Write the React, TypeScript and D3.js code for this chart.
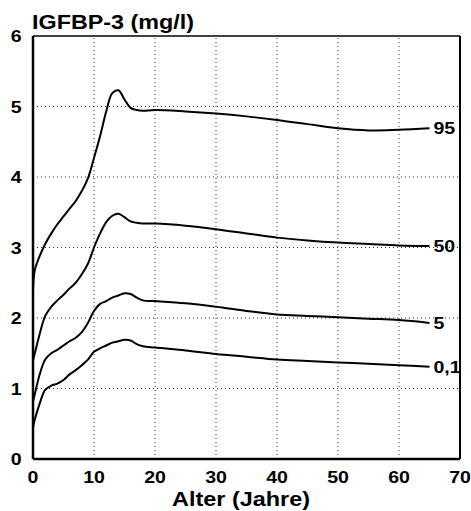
import React from "react";
import * as d3 from "d3";

const ages = [0, 0.3, 1, 2, 3, 4, 5, 6, 7, 8, 9, 10, 11, 12, 13, 14, 15, 16, 17, 18, 20, 25, 30, 35, 40, 45, 50, 55, 60, 65];
const p95 = [2.4, 2.68, 2.86, 3.05, 3.2, 3.33, 3.44, 3.55, 3.66, 3.8, 3.98, 4.27, 4.58, 4.93, 5.19, 5.23, 5.1, 4.98, 4.95, 4.94, 4.95, 4.93, 4.9, 4.86, 4.81, 4.75, 4.69, 4.66, 4.67, 4.69];
const p50 = [1.4, 1.5, 1.74, 2.03, 2.16, 2.25, 2.33, 2.42, 2.5, 2.62, 2.77, 3.0, 3.2, 3.36, 3.45, 3.48, 3.43, 3.37, 3.35, 3.34, 3.34, 3.31, 3.26, 3.2, 3.14, 3.1, 3.07, 3.05, 3.03, 3.02];
const p5 = [0.82, 0.92, 1.17, 1.41, 1.5, 1.55, 1.61, 1.67, 1.72, 1.8, 1.93, 2.1, 2.2, 2.24, 2.29, 2.32, 2.35, 2.34, 2.29, 2.25, 2.24, 2.21, 2.16, 2.1, 2.05, 2.03, 2.01, 1.99, 1.97, 1.93];
const p01 = [0.45, 0.56, 0.76, 0.98, 1.04, 1.07, 1.12, 1.2, 1.26, 1.33, 1.41, 1.52, 1.57, 1.61, 1.65, 1.67, 1.69, 1.68, 1.63, 1.6, 1.58, 1.54, 1.49, 1.45, 1.41, 1.39, 1.37, 1.35, 1.33, 1.31];
const seriesNames = ["95", "50", "5", "0,1"];
const seriesValues = [p95, p50, p5, p01];
const xTicks = [0, 10, 20, 30, 40, 50, 60, 70];
const yTicks = [0, 1, 2, 3, 4, 5, 6];
const title = "IGFBP-3 (mg/l)";
const xTitle = "Alter (Jahre)";

const FONT = "'Liberation Sans', Arial, Helvetica, sans-serif";

export default function App() {
  const x = d3.scaleLinear().domain([0, 70]).range([33, 460]);
  const y = d3.scaleLinear().domain([0, 6]).range([459, 36]);
  const line = d3
    .line<[number, number]>()
    .x((d) => x(d[0]))
    .y((d) => y(d[1]))
    .curve(d3.curveCatmullRom.alpha(0.5));

  const sx = 1.15;
  const T = (props: { x: number; y: number; size: number; anchor?: string; children: React.ReactNode; textLength?: number }) => (
    <text
      transform={`translate(${props.x},${props.y}) scale(${props.textLength ? 1 : sx},1)`}
      fontFamily={FONT}
      fontWeight="bold"
      fontSize={props.size}
      textAnchor={props.anchor || "start"}
      fill="#000"
      textLength={props.textLength}
      lengthAdjust={props.textLength ? "spacingAndGlyphs" : undefined}
    >
      {props.children}
    </text>
  );

  return (
    <svg
      width={471}
      height={511}
      style={{ position: "absolute", left: 0, top: 0, background: "#fff" }}
    >
      <rect x={0} y={0} width={471} height={511} fill="#fff" />
      {xTicks
        .filter((t) => t > 0 && t < 70)
        .map((t) => (
          <line
            key={"gx" + t}
            x1={x(t)}
            x2={x(t)}
            y1={y(0)}
            y2={y(6)}
            stroke="#333"
            strokeWidth={1}
            strokeDasharray="1,3"
          />
        ))}
      {yTicks
        .filter((t) => t > 0 && t < 6)
        .map((t) => (
          <line
            key={"gy" + t}
            x1={x(0)}
            x2={x(70)}
            y1={y(t)}
            y2={y(t)}
            stroke="#333"
            strokeWidth={1}
            strokeDasharray="1,3"
          />
        ))}
      <line x1={x(0)} x2={x(70)} y1={y(6)} y2={y(6)} stroke="#000" strokeWidth={1.5} />
      <line x1={x(70)} x2={x(70)} y1={y(6)} y2={y(0)} stroke="#000" strokeWidth={2} />
      <line x1={x(0)} x2={x(70)} y1={y(0)} y2={y(0)} stroke="#000" strokeWidth={2.5} />
      <line x1={x(0)} x2={x(0)} y1={y(6)} y2={y(0)} stroke="#000" strokeWidth={2.5} />
      {seriesValues.map((vals, i) => {
        const pts = ages.map((a, j) => [a, vals[j]] as [number, number]);
        const last = pts[pts.length - 1];
        return (
          <g key={"s" + i}>
            <path d={line(pts) || ""} fill="none" stroke="#000" strokeWidth={2} strokeLinejoin="round" />
            <T x={x(last[0]) + 4} y={y(last[1]) + 6} size={17}>
              {seriesNames[i]}
            </T>
          </g>
        );
      })}
      {yTicks.map((t) => (
        <T key={"yl" + t} x={21.5} y={y(t) + 6} size={17} anchor="end">
          {t}
        </T>
      ))}
      {xTicks.map((t) => (
        <T key={"xl" + t} x={x(t)} y={483} size={17} anchor="middle">
          {t}
        </T>
      ))}
      <T x={32} y={29} size={20} textLength={162}>
        {title}
      </T>
      <T x={172} y={506} size={21} textLength={138}>
        {xTitle}
      </T>
    </svg>
  );
}
